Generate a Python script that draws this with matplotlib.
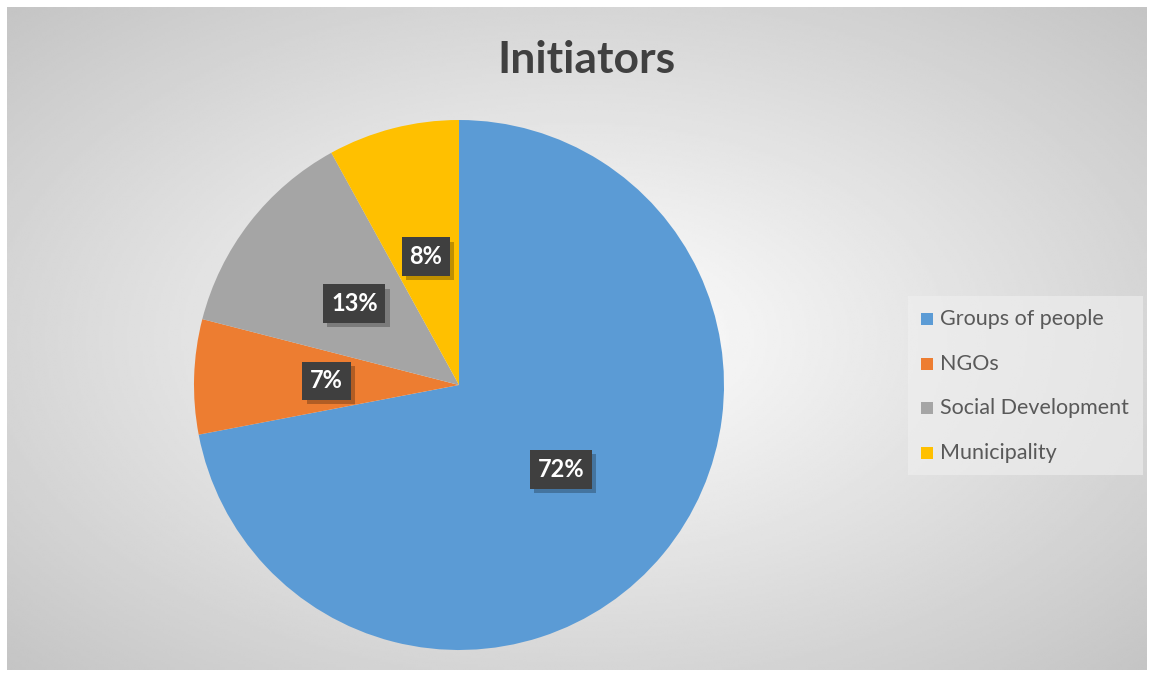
import numpy as np
import matplotlib
matplotlib.use("Agg")
import matplotlib.pyplot as plt
import matplotlib.patheffects as pe
from matplotlib.patches import Rectangle

# data
categories = ["Groups of people", "NGOs", "Social Development", "Municipality"]
shares = [72, 7, 13, 8]
colors = ["#5b9bd5", "#ed7d31", "#a5a5a5", "#ffc000"]
title = "Initiators"

plt.rcParams['font.family'] = ['Lato', 'DejaVu Sans']

W, H = 1152, 677
fig = plt.figure(figsize=(W / 100, H / 100), dpi=100)
fig.patch.set_facecolor("white")

# background panel with radial gradient
bg = fig.add_axes([7 / W, 7 / H, (1147 - 7) / W, (670 - 7) / H])
yy, xx = np.mgrid[-1:1:300j, -1:1:500j]
d = np.sqrt(xx ** 2 + yy ** 2) / np.sqrt(2)
shade = 1 - 0.23 * d
bg.imshow(shade, cmap="gray", vmin=0, vmax=1, aspect="auto",
          extent=[0, 1, 0, 1], interpolation="bilinear")
bg.set_xlim(0, 1)
bg.set_ylim(0, 1)
bg.axis("off")

fig.text(586 / W, 1 - 60 / H, title, ha="center", va="center",
         fontsize=32, fontweight="bold", color="#404040")

# pie
cx, cy, r = 459, 385, 265
ax = fig.add_axes([(cx - r) / W, (H - cy - r) / H, 2 * r / W, 2 * r / H])
wedges, _, autotexts = ax.pie(shares, colors=colors, startangle=90,
                              counterclock=False, autopct="%d%%",
                              pctdistance=0.5, radius=1,
                              wedgeprops=dict(linewidth=0))
ax.set_xlim(-1, 1)
ax.set_ylim(-1, 1)
ax.set_aspect("equal")

for t in autotexts:
    t.set_color("white")
    t.set_fontsize(17)
    t.set_fontweight("bold")
    t.set_bbox(dict(boxstyle="square,pad=0.33", facecolor="#3f3f3f",
                    edgecolor="none"))
    t.get_bbox_patch().set_path_effects(
        [pe.SimplePatchShadow(offset=(3, -3), shadow_rgbFace="black", alpha=0.25),
         pe.Normal()])

# legend
lax = fig.add_axes([0, 0, 1, 1])
lax.set_xlim(0, W)
lax.set_ylim(H, 0)
lax.axis("off")
lax.add_patch(Rectangle((908, 296), 1143 - 908, 475 - 296,
                        facecolor="#f0f0f0", alpha=0.6, edgecolor="none"))
for i, (name, c) in enumerate(zip(categories, colors)):
    y = 319 + i * 44.7
    lax.add_patch(Rectangle((921, y - 6), 12, 12, facecolor=c, edgecolor="none"))
    lax.text(940, y, name, va="center", ha="left", fontsize=15.5, color="#595959")

fig.savefig("out.png", dpi=100)
